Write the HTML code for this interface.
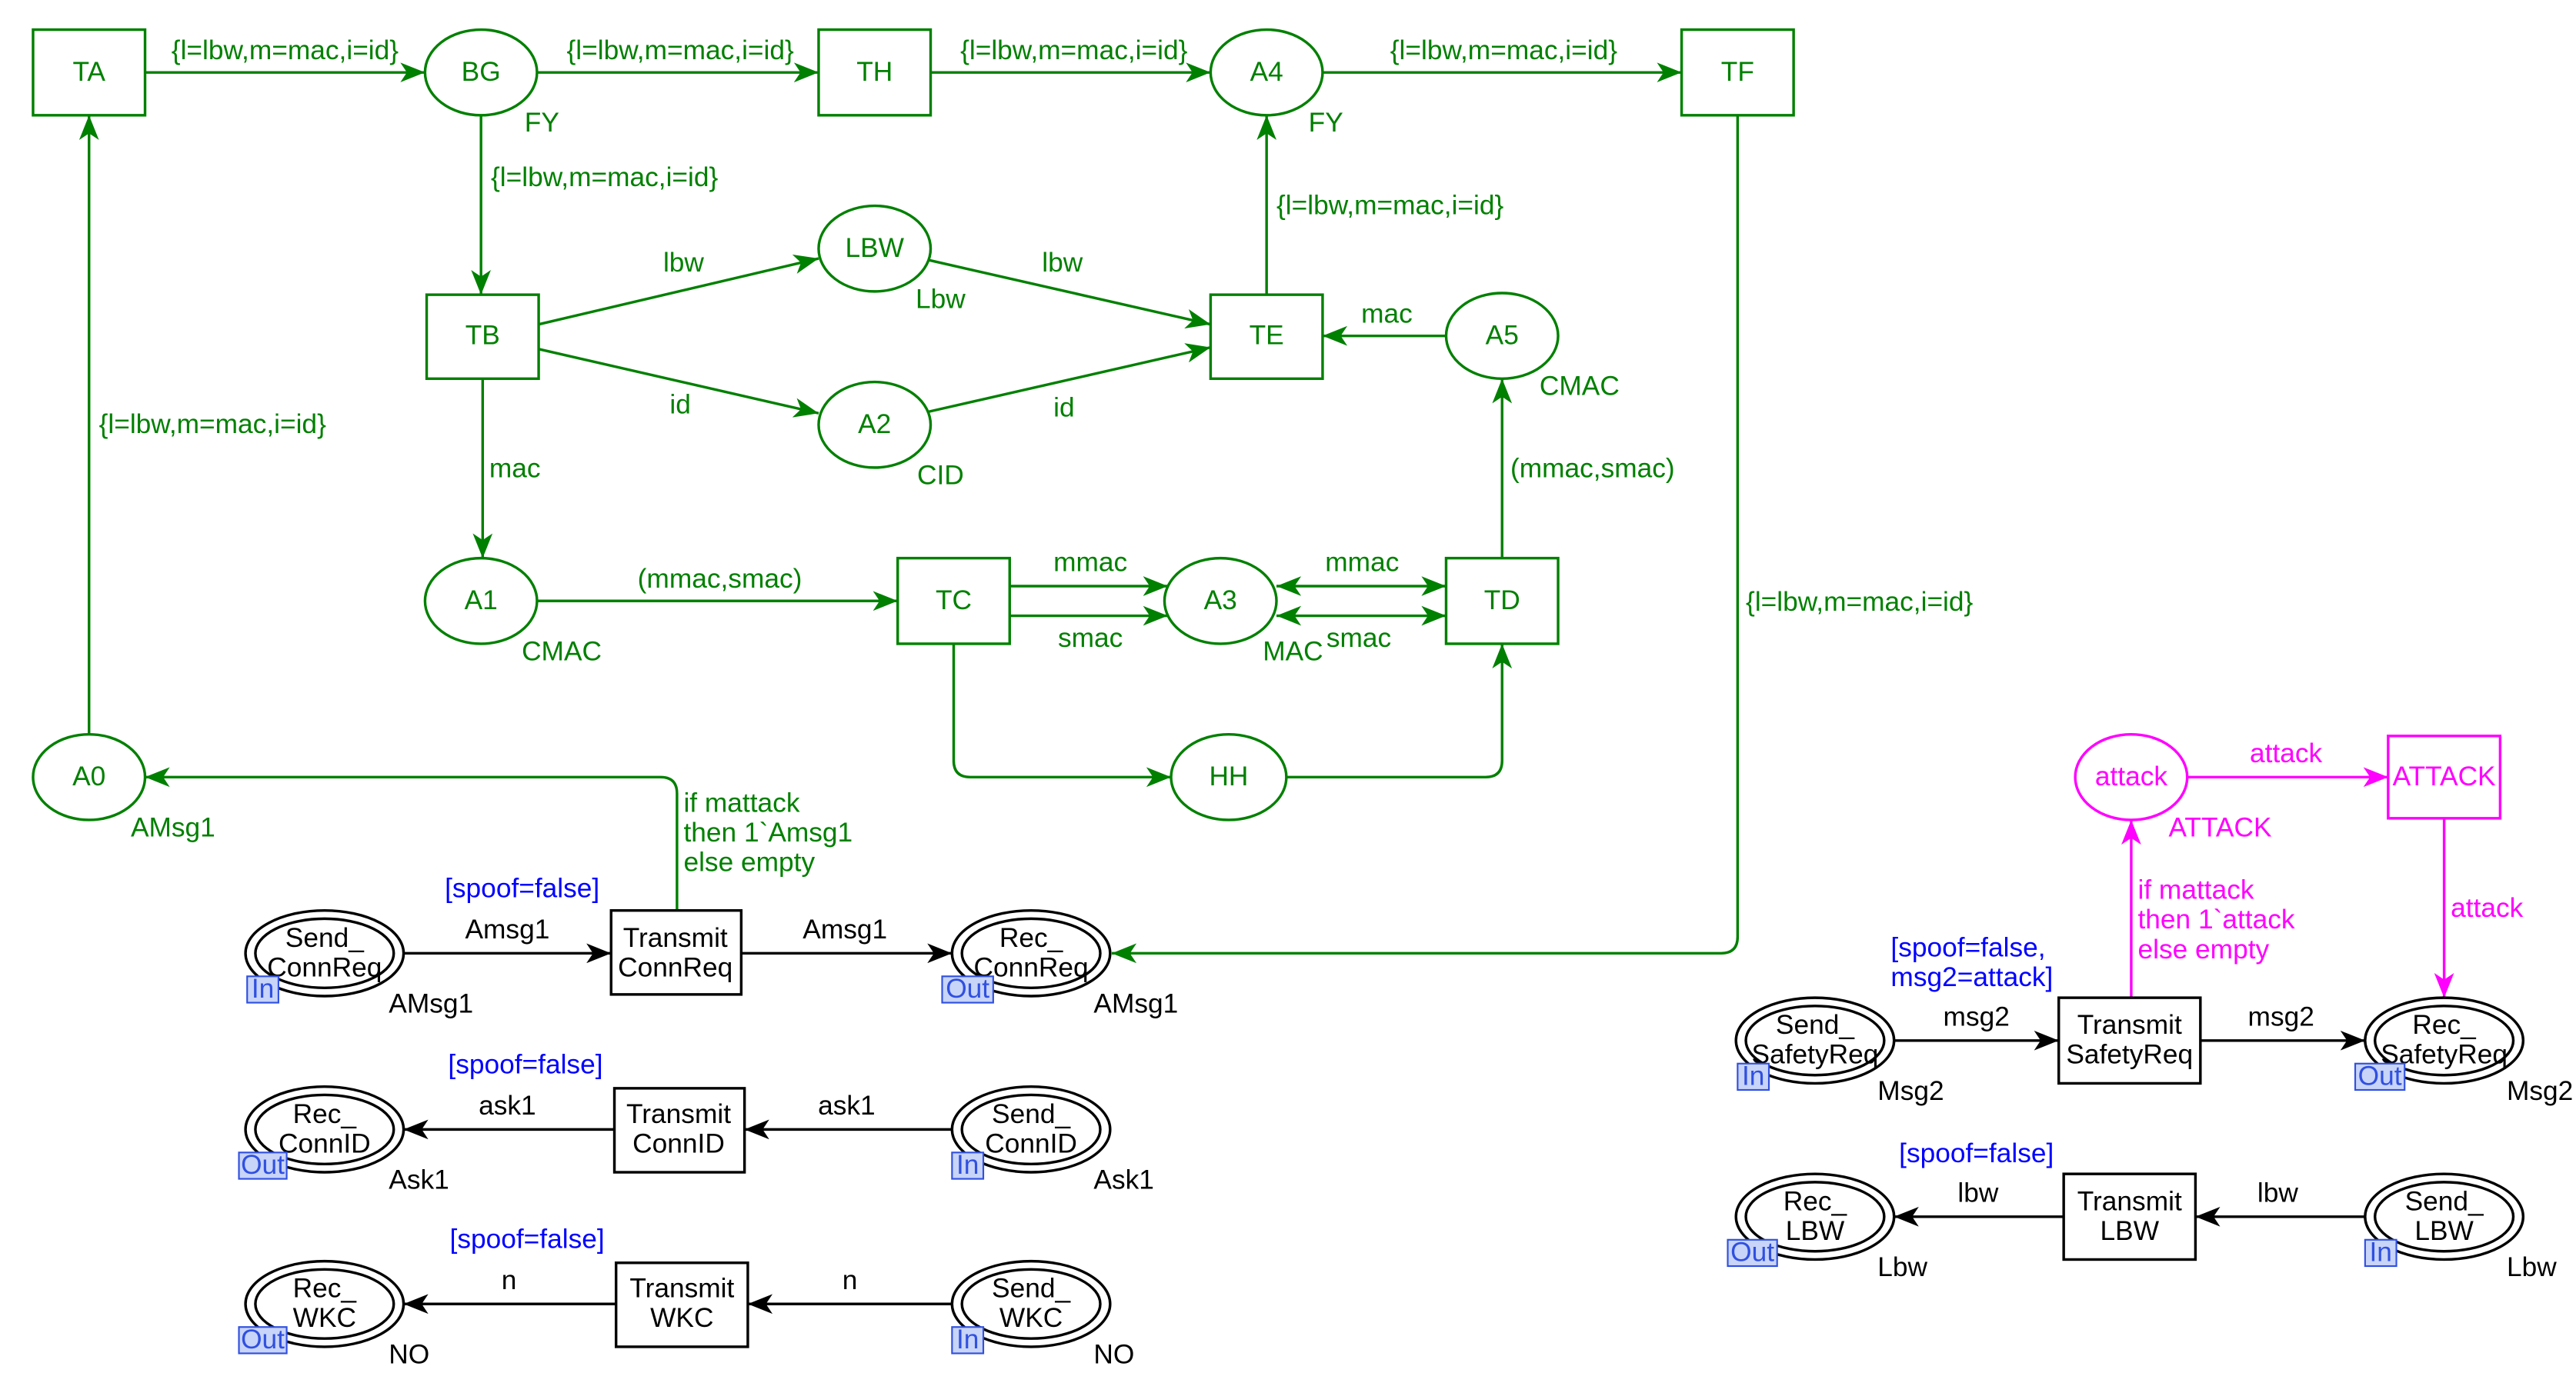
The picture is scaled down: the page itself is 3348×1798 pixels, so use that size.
<!DOCTYPE html>
<html><head><meta charset="utf-8"><style>
html,body{margin:0;padding:0;background:#fff;}
svg{display:block;}
text{font-family:"Liberation Sans Narrow","Liberation Sans",sans-serif;font-size:16.5px;}
</style></head><body>
<svg width="3348" height="1798" viewBox="0 0 1564 840" xmlns="http://www.w3.org/2000/svg">
<defs>
<marker id="g" markerWidth="16" markerHeight="12" refX="15" refY="6" orient="auto" markerUnits="userSpaceOnUse"><path d="M0,0 L15,6 L0,12 L4,6 z" fill="#008000"/></marker>
<marker id="gs" markerWidth="16" markerHeight="12" refX="1" refY="6" orient="auto" markerUnits="userSpaceOnUse"><path d="M16,0 L1,6 L16,12 L12,6 z" fill="#008000"/></marker>
<marker id="k" markerWidth="16" markerHeight="12" refX="15" refY="6" orient="auto" markerUnits="userSpaceOnUse"><path d="M0,0 L15,6 L0,12 L4,6 z" fill="#000"/></marker>
<marker id="m" markerWidth="16" markerHeight="12" refX="15" refY="6" orient="auto" markerUnits="userSpaceOnUse"><path d="M0,0 L15,6 L0,12 L4,6 z" fill="#ff00ff"/></marker>
</defs>
<rect width="1564" height="840" fill="#fff"/>

<g stroke="#008000" stroke-width="1.6" fill="none">
<rect x="20" y="18" width="68" height="52"/>
<rect x="497" y="18" width="68" height="52"/>
<rect x="1021" y="18" width="68" height="52"/>
<rect x="259" y="179" width="68" height="51"/>
<rect x="735" y="179" width="68" height="51"/>
<rect x="545" y="339" width="68" height="52"/>
<rect x="878" y="339" width="68" height="52"/>
<ellipse cx="292" cy="44" rx="34" ry="26"/>
<ellipse cx="769" cy="44" rx="34" ry="26"/>
<ellipse cx="531" cy="151" rx="34" ry="26"/>
<ellipse cx="531" cy="258" rx="34" ry="26"/>
<ellipse cx="912" cy="204" rx="34" ry="26"/>
<ellipse cx="292" cy="365" rx="34" ry="26"/>
<ellipse cx="741" cy="365" rx="34" ry="26"/>
<ellipse cx="746" cy="472" rx="35" ry="26"/>
<ellipse cx="54" cy="472" rx="34" ry="26"/>
<g marker-end="url(#g)">
<line x1="88" y1="44" x2="258" y2="44"/>
<line x1="326" y1="44" x2="497" y2="44"/>
<line x1="565" y1="44" x2="735" y2="44"/>
<line x1="803" y1="44" x2="1021" y2="44"/>
<line x1="292" y1="70" x2="292" y2="179"/>
<line x1="327" y1="197" x2="497" y2="157"/>
<line x1="564" y1="158" x2="735" y2="197"/>
<line x1="327" y1="212" x2="497" y2="251"/>
<line x1="564" y1="250" x2="735" y2="211"/>
<line x1="878" y1="204" x2="803" y2="204"/>
<line x1="769" y1="179" x2="769" y2="70"/>
<line x1="293" y1="230" x2="293" y2="339"/>
<line x1="326" y1="365" x2="545" y2="365"/>
<line x1="613" y1="356" x2="709" y2="356"/>
<line x1="613" y1="374" x2="709" y2="374"/>
<line x1="775" y1="356" x2="878" y2="356" marker-start="url(#gs)"/>
<line x1="775" y1="374" x2="878" y2="374" marker-start="url(#gs)"/>
<line x1="912" y1="339" x2="912" y2="230"/>
<path d="M579,391 L579,462 Q579,472 589,472 L711,472"/>
<path d="M781,472 L902,472 Q912,472 912,462 L912,391"/>
<path d="M1055,70 L1055,569 Q1055,579 1045,579 L675,579"/>
<path d="M411,553 L411,482 Q411,472 401,472 L88,472"/>
<line x1="54" y1="446" x2="54" y2="70"/>
</g>
</g>
<g fill="#008000" text-anchor="middle">
<text x="54" y="49">TA</text><text x="292" y="49">BG</text><text x="531" y="49">TH</text>
<text x="769" y="49">A4</text><text x="1055" y="49">TF</text><text x="293" y="209">TB</text>
<text x="531" y="156">LBW</text><text x="531" y="263">A2</text><text x="769" y="209">TE</text>
<text x="912" y="209">A5</text><text x="292" y="370">A1</text><text x="579" y="370">TC</text>
<text x="741" y="370">A3</text><text x="912" y="370">TD</text><text x="746" y="477">HH</text>
<text x="54" y="477">A0</text>
<text x="173" y="36">{l=lbw,m=mac,i=id}</text>
<text x="413" y="36">{l=lbw,m=mac,i=id}</text>
<text x="652" y="36">{l=lbw,m=mac,i=id}</text>
<text x="913" y="36">{l=lbw,m=mac,i=id}</text>
<text x="415" y="165">lbw</text><text x="645" y="165">lbw</text>
<text x="413" y="251">id</text><text x="646" y="253">id</text>
<text x="842" y="196">mac</text>
<text x="437" y="357">(mmac,smac)</text>
<text x="662" y="347">mmac</text><text x="662" y="393">smac</text>
<text x="827" y="347">mmac</text><text x="825" y="393">smac</text>
<text x="329" y="80">FY</text><text x="805" y="80">FY</text>
<text x="571" y="187">Lbw</text><text x="571" y="294">CID</text>
<text x="959" y="240">CMAC</text><text x="341" y="401">CMAC</text>
<text x="785" y="401">MAC</text><text x="105" y="508">AMsg1</text>
</g>
<g fill="#008000">
<text x="298" y="113">{l=lbw,m=mac,i=id}</text>
<text x="775" y="130">{l=lbw,m=mac,i=id}</text>
<text x="297" y="290">mac</text>
<text x="917" y="290">(mmac,smac)</text>
<text x="1060" y="371">{l=lbw,m=mac,i=id}</text>
<text x="60" y="263">{l=lbw,m=mac,i=id}</text>
<text x="415" y="493">if mattack</text>
<text x="415" y="511">then 1`Amsg1</text>
<text x="415" y="529">else empty</text>
</g>

<g stroke="#ff00ff" stroke-width="1.6" fill="none">
<ellipse cx="1294" cy="472" rx="34" ry="26"/>
<rect x="1450" y="447" width="68" height="50"/>
<g marker-end="url(#m)">
<line x1="1328" y1="472" x2="1450" y2="472"/>
<line x1="1484" y1="497" x2="1484" y2="606"/>
<line x1="1294" y1="606" x2="1294" y2="498"/>
</g>
</g>
<g fill="#ff00ff">
<text x="1294" y="477" text-anchor="middle">attack</text>
<text x="1484" y="477" text-anchor="middle">ATTACK</text>
<text x="1388" y="463" text-anchor="middle">attack</text>
<text x="1348" y="508" text-anchor="middle">ATTACK</text>
<text x="1488" y="557">attack</text>
<text x="1298" y="546">if mattack</text>
<text x="1298" y="564">then 1`attack</text>
<text x="1298" y="582">else empty</text>
</g>

<g stroke="#000" stroke-width="1.6" fill="none">
<ellipse cx="197" cy="579" rx="48" ry="26"/><ellipse cx="197" cy="579" rx="42" ry="21"/>
<ellipse cx="626" cy="579" rx="48" ry="26"/><ellipse cx="626" cy="579" rx="42" ry="21"/>
<ellipse cx="197" cy="686" rx="48" ry="26"/><ellipse cx="197" cy="686" rx="42" ry="21"/>
<ellipse cx="626" cy="686" rx="48" ry="26"/><ellipse cx="626" cy="686" rx="42" ry="21"/>
<ellipse cx="197" cy="792" rx="48" ry="26"/><ellipse cx="197" cy="792" rx="42" ry="21"/>
<ellipse cx="626" cy="792" rx="48" ry="26"/><ellipse cx="626" cy="792" rx="42" ry="21"/>
<ellipse cx="1102" cy="632" rx="48" ry="26"/><ellipse cx="1102" cy="632" rx="42" ry="21"/>
<ellipse cx="1484" cy="632" rx="48" ry="26"/><ellipse cx="1484" cy="632" rx="42" ry="21"/>
<ellipse cx="1102" cy="739" rx="48" ry="26"/><ellipse cx="1102" cy="739" rx="42" ry="21"/>
<ellipse cx="1484" cy="739" rx="48" ry="26"/><ellipse cx="1484" cy="739" rx="42" ry="21"/>
<rect x="371" y="553" width="79" height="51"/>
<rect x="373" y="661" width="79" height="51"/>
<rect x="374" y="767" width="80" height="51"/>
<rect x="1250" y="606" width="86" height="52"/>
<rect x="1253" y="713" width="80" height="52"/>
<g marker-end="url(#k)">
<line x1="245" y1="579" x2="371" y2="579"/>
<line x1="450" y1="579" x2="578" y2="579"/>
<line x1="373" y1="686" x2="245" y2="686"/>
<line x1="578" y1="686" x2="452" y2="686"/>
<line x1="374" y1="792" x2="245" y2="792"/>
<line x1="578" y1="792" x2="454" y2="792"/>
<line x1="1150" y1="632" x2="1250" y2="632"/>
<line x1="1336" y1="632" x2="1436" y2="632"/>
<line x1="1253" y1="739" x2="1150" y2="739"/>
<line x1="1436" y1="739" x2="1333" y2="739"/>
</g>
</g>
<g fill="#000" text-anchor="middle">
<text x="197" y="575">Send_</text><text x="197" y="593">ConnReq</text>
<text x="626" y="575">Rec_</text><text x="626" y="593">ConnReq</text>
<text x="197" y="682">Rec_</text><text x="197" y="700">ConnID</text>
<text x="626" y="682">Send_</text><text x="626" y="700">ConnID</text>
<text x="197" y="788">Rec_</text><text x="197" y="806">WKC</text>
<text x="626" y="788">Send_</text><text x="626" y="806">WKC</text>
<text x="1102" y="628">Send_</text><text x="1102" y="646">SafetyReq</text>
<text x="1484" y="628">Rec_</text><text x="1484" y="646">SafetyReq</text>
<text x="1102" y="735">Rec_</text><text x="1102" y="753">LBW</text>
<text x="1484" y="735">Send_</text><text x="1484" y="753">LBW</text>
<text x="410" y="575">Transmit</text><text x="410" y="593">ConnReq</text>
<text x="412" y="682">Transmit</text><text x="412" y="700">ConnID</text>
<text x="414" y="788">Transmit</text><text x="414" y="806">WKC</text>
<text x="1293" y="628">Transmit</text><text x="1293" y="646">SafetyReq</text>
<text x="1293" y="735">Transmit</text><text x="1293" y="753">LBW</text>
<text x="308" y="570">Amsg1</text><text x="513" y="570">Amsg1</text>
<text x="308" y="677">ask1</text><text x="514" y="677">ask1</text>
<text x="309" y="783">n</text><text x="516" y="783">n</text>
<text x="1200" y="623">msg2</text><text x="1385" y="623">msg2</text>
<text x="1201" y="730">lbw</text><text x="1383" y="730">lbw</text>
</g>
<g fill="#000">
<text x="236" y="615">AMsg1</text><text x="664" y="615">AMsg1</text>
<text x="236" y="722">Ask1</text><text x="664" y="722">Ask1</text>
<text x="236" y="828">NO</text><text x="664" y="828">NO</text>
<text x="1140" y="668">Msg2</text><text x="1522" y="668">Msg2</text>
<text x="1140" y="775">Lbw</text><text x="1522" y="775">Lbw</text>
</g>
<g fill="#0000ff" text-anchor="middle">
<text x="317" y="545">[spoof=false]</text>
<text x="319" y="652">[spoof=false]</text>
<text x="320" y="758">[spoof=false]</text>
<text x="1200" y="706">[spoof=false]</text>
</g>
<g fill="#0000ff">
<text x="1148" y="581">[spoof=false,</text>
<text x="1148" y="599">msg2=attack]</text>
</g>
<g stroke="#3050e0" stroke-width="1" fill="#c8d4f8">
<rect x="150" y="593" width="19" height="16"/>
<rect x="572" y="593" width="31" height="16"/>
<rect x="145" y="700" width="29" height="16"/>
<rect x="578" y="700" width="19" height="16"/>
<rect x="145" y="806" width="29" height="16"/>
<rect x="578" y="806" width="19" height="16"/>
<rect x="1055" y="646" width="19" height="16"/>
<rect x="1430" y="646" width="30" height="16"/>
<rect x="1049" y="753" width="30" height="16"/>
<rect x="1436" y="753" width="19" height="16"/>
</g>
<g fill="#3050e0" text-anchor="middle" style="font-size:15px">
<text x="159.5" y="606">In</text><text x="587.5" y="606">Out</text>
<text x="159.5" y="713">Out</text><text x="587.5" y="713">In</text>
<text x="159.5" y="819">Out</text><text x="587.5" y="819">In</text>
<text x="1064.5" y="659">In</text><text x="1445" y="659">Out</text>
<text x="1064" y="766">Out</text><text x="1445.5" y="766">In</text>
</g>
</svg>
</body></html>
